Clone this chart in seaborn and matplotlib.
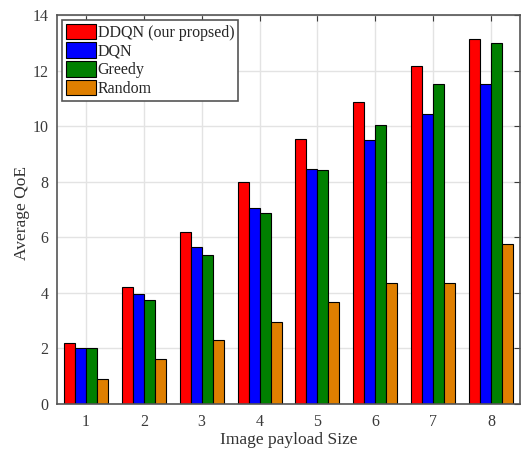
import matplotlib
matplotlib.use('Agg')
import matplotlib.pyplot as plt
import seaborn as sns
import pandas as pd

payload_sizes = [1, 2, 3, 4, 5, 6, 7, 8]
ddqn = [2.19, 4.2, 6.19, 7.98, 9.52, 10.88, 12.15, 13.12]
dqn = [2.02, 3.96, 5.65, 7.05, 8.44, 9.5, 10.43, 11.5]
greedy = [2.0, 3.74, 5.36, 6.88, 8.43, 10.04, 11.52, 13.0]
random_ = [0.9, 1.62, 2.3, 2.96, 3.68, 4.35, 4.35, 5.75]
methods = ['DDQN (our propsed)', 'DQN', 'Greedy', 'Random']
colors = ['#FF0000', '#0000FF', '#008000', '#DF7F00']

rows = []
for name, vals in zip(methods, [ddqn, dqn, greedy, random_]):
    for s, v in zip(payload_sizes, vals):
        rows.append({'size': s, 'method': name, 'qoe': v})
df = pd.DataFrame(rows)

sns.set_style('white')
plt.rcParams['font.family'] = ['Liberation Serif', 'DejaVu Serif']

fig = plt.figure(figsize=(5.21, 4.5), dpi=100)
ax = fig.add_axes([57/521, 46/450, 463/521, 389/450])

sns.barplot(data=df, x='size', y='qoe', hue='method', hue_order=methods,
            palette=colors, width=0.76, edgecolor='black', linewidth=0.8,
            saturation=1, errorbar=None, ax=ax)

ax.set_xlim(-0.5, 7.5)
ax.set_ylim(0, 14)
ax.set_yticks(range(0, 15, 2))
ax.set_xticks(range(len(payload_sizes)))
ax.set_xticklabels([str(s) for s in payload_sizes])
ax.grid(True, color='#e3e3e3', linewidth=1)
ax.set_axisbelow(True)
for sp in ax.spines.values():
    sp.set_visible(True)
    sp.set_color('#555555')
    sp.set_linewidth(1.2)
ax.tick_params(direction='in', length=4, colors='#3a3a3a', labelsize=11.5,
               top=True, right=True)
ax.tick_params(axis='x', pad=7)
ax.tick_params(axis='y', pad=6)
ax.set_xlabel('Image payload Size', fontsize=12.5, color='#333333')
ax.xaxis.set_label_coords(0.5, -0.071)
ax.set_ylabel('Average QoE', fontsize=12.5, color='#333333')
ax.yaxis.set_label_coords(-0.058, 0.49)

leg = ax.legend(loc='upper left', fontsize=11.5, fancybox=False, framealpha=1,
                edgecolor='#555555', handlelength=1.9, handleheight=1.1,
                handletextpad=0.1, borderpad=0.25, labelspacing=0.1,
                borderaxespad=0.3)
leg.get_frame().set_linewidth(1.2)

fig.savefig('out.png', dpi=100)
